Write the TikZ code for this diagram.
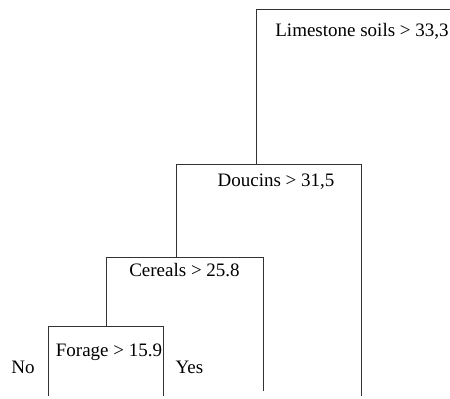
\documentclass[tikz,border=0pt]{standalone}
\usepackage{fontspec}
\setmainfont{Liberation Serif}
\begin{document}
\begin{tikzpicture}[x=1pt,y=-1pt,
  edge/.style={draw=black!80, line width=0.9pt},
  lbl/.style={anchor=base, inner sep=0pt, font=\fontsize{19}{19}\selectfont}]
\useasboundingbox (0,0) rectangle (450,399);
% root split
\coordinate (Rl) at (256,9);
\coordinate (Rr) at (452,9);
% Doucins split
\coordinate (Dm) at (256,164);
\coordinate (Dl) at (176,164);
\coordinate (Dr) at (361,164);
\coordinate (Drb) at (361,396);
% Cereals split
\coordinate (Cm) at (176,257);
\coordinate (Cl) at (106,257);
\coordinate (Cr) at (263,257);
\coordinate (Crb) at (263,391);
% Forage split
\coordinate (Fm) at (106,326);
\coordinate (Fl) at (48,326);
\coordinate (Fr) at (163,326);
\coordinate (Flb) at (48,396);
\coordinate (Frb) at (163,396);
\draw[edge] (Rr) -- (Rl) -- (Dm);
\draw[edge] (Dm) -- (Dl) -- (Cm);
\draw[edge] (Dm) -- (Dr) -- (Drb);
\draw[edge] (Cm) -- (Cl) -- (Fm);
\draw[edge] (Cm) -- (Cr) -- (Crb);
\draw[edge] (Fm) -- (Fl) -- (Flb);
\draw[edge] (Fm) -- (Fr) -- (Frb);
\node[lbl] (lime) at (362,36) {Limestone soils > 33,3};
\node[lbl] (douc) at (276,186) {Doucins > 31,5};
\node[lbl] (cere) at (184.5,276) {Cereals > 25.8};
\node[lbl] (fora) at (109,356) {Forage > 15.9};
\node[lbl] (no) at (23,373) {No};
\node[lbl] (yes) at (189.5,373) {Yes};
\end{tikzpicture}
\end{document}
